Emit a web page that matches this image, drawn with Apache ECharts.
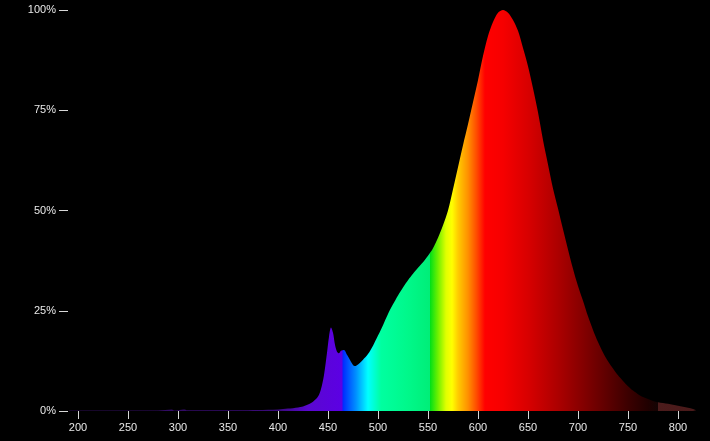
<!DOCTYPE html>
<html>
<head>
<meta charset="utf-8">
<style>
  html, body { margin: 0; padding: 0; background: #000; }
  #chart { width: 710px; height: 441px; }
</style>
<script src="https://cdn.jsdelivr.net/npm/echarts@6/dist/echarts.min.js"></script>
</head>
<body>
<div id="chart"></div>
<script>
// ---- data (wavelength in nm, relative intensity in %) ----
var wavelengths = [191, 220, 250, 280, 294, 296, 300, 307, 309, 330, 360, 380, 400, 410, 420, 425, 430, 435, 440, 443, 446, 449, 451, 453, 455, 457, 459, 461, 463, 466, 469, 472, 475, 477, 480, 485, 490, 495, 500, 505, 510, 515, 520, 525, 530, 535, 540, 545, 550, 555, 560, 565, 570, 575, 580, 585, 590, 595, 600, 605, 610, 615, 620, 625, 630, 635, 640, 645, 650, 655, 660, 665, 670, 675, 680, 685, 690, 695, 700, 705, 710, 715, 720, 725, 730, 735, 740, 745, 750, 755, 760, 765, 770, 775, 780, 790, 800, 810, 815, 818];
var intensity   = [0.15, 0.15, 0.15, 0.15, 0.4, 0.15, 0.2, 0.4, 0.2, 0.2, 0.2, 0.25, 0.4, 0.6, 0.9, 1.1, 1.6, 2.3, 3.6, 5.5, 9, 14.5, 18.5, 20.8, 19.5, 16.5, 14.8, 14.4, 15.0, 15.2, 14.0, 12.7, 11.5, 11.2, 11.6, 12.8, 14.2, 16.3, 18.8, 21.4, 24.2, 26.6, 28.8, 30.8, 32.6, 34.2, 35.7, 37.1, 38.7, 40.6, 43.2, 46.3, 50.0, 55.3, 60.8, 66.3, 71.5, 77.0, 82.5, 88.5, 93.5, 97.0, 99.3, 100, 99.3, 97.5, 94.8, 90.5, 86.0, 80.5, 74.5, 67.6, 61.5, 55.5, 50.5, 45.3, 40.3, 35.5, 31.2, 27.5, 23.6, 20.2, 17.2, 14.6, 12.4, 10.6, 8.9, 7.5, 6.2, 5.1, 4.2, 3.5, 3.0, 2.5, 2.2, 1.8, 1.3, 0.8, 0.5, 0.2];
var xTickValues = [200, 250, 300, 350, 400, 450, 500, 550, 600, 650, 700, 750, 800];

// ---- spectrum colour stops (wavelength -> colour), style only ----
var spectrumStops = [
  [191, '#2a0c4e'], [400, '#3a0a7a'], [430, '#5a08d0'], [464.4, '#5c00e4'],
  [464.6, '#0028ff'], [478, '#0090ff'], [490, '#00ffff'], [503, '#00ffa0'],
  [530, '#00f88a'], [551.9, '#00ee78'], [552.1, '#00e018'], [560, '#70f000'],
  [568, '#e0ff00'], [574, '#ffff00'], [580, '#ffcc00'], [590, '#ff9000'], [599, '#ff4800'],
  [607, '#ff0000'], [625, '#f60000'], [650, '#d80000'], [680, '#ac0000'],
  [700, '#8c0000'], [725, '#640000'], [750, '#3c0000'], [770, '#200000'],
  [779.6, '#140404'], [779.8, '#4c1c1c'], [818, '#4a1a1a']
];

var wMin = wavelengths[0], wMax = wavelengths[wavelengths.length - 1];
var colorStops = spectrumStops.map(function (s) {
  return { offset: Math.min(1, Math.max(0, (s[0] - wMin) / (wMax - wMin))), color: s[1] };
});

var seriesData = wavelengths.map(function (w, i) { return [w, intensity[i]]; });

var chart = echarts.init(document.getElementById('chart'), null, { renderer: 'canvas' });
chart.setOption({
  backgroundColor: '#000000',
  animation: false,
  grid: { left: 68, right: 12, top: 10, bottom: 30, containLabel: false },
  xAxis: {
    type: 'value',
    min: 190,
    max: 820,
    splitLine: { show: false },
    axisLine: { show: false },
    axisTick: { show: true, length: 8, customValues: xTickValues, lineStyle: { color: '#d8d8d8', width: 1 } },
    axisLabel: { customValues: xTickValues, color: '#e8e8e8', fontSize: 11, fontFamily: 'Liberation Sans, Arial, sans-serif', margin: 11 }
  },
  yAxis: {
    type: 'value',
    min: 0,
    max: 100,
    interval: 25,
    splitLine: { show: false },
    axisLine: { show: false },
    axisTick: { show: true, length: 9, lineStyle: { color: '#d8d8d8', width: 1 } },
    axisLabel: { color: '#e8e8e8', fontSize: 11, fontFamily: 'Liberation Sans, Arial, sans-serif', margin: 12, formatter: '{value}%' }
  },
  series: [{
    type: 'line',
    data: seriesData,
    showSymbol: false,
    smooth: 0.3,
    lineStyle: { width: 0, opacity: 0 },
    areaStyle: {
      opacity: 1,
      color: { type: 'linear', x: 0, y: 0, x2: 1, y2: 0, colorStops: colorStops }
    }
  }]
});
</script>
</body>
</html>
